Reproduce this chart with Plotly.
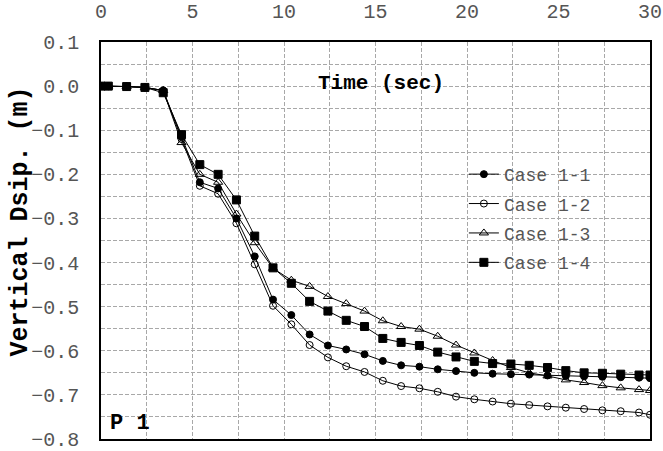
import plotly.graph_objects as go

# Time axis (sec)
time_s = [0, 0.4, 1.4, 2.4, 3.4, 4.4, 5.4, 6.4, 7.4, 8.4, 9.4, 10.4, 11.4, 12.4,
          13.4, 14.4, 15.4, 16.4, 17.4, 18.4, 19.4, 20.4, 21.4, 22.4, 23.4, 24.4,
          25.4, 26.4, 27.4, 28.4, 29.4, 30.0]

# Vertical displacement (m) per case
case_1_1 = [0, 0, -0.001, -0.003, -0.010, -0.115, -0.218, -0.232, -0.300, -0.386,
            -0.484, -0.519, -0.563, -0.588, -0.597, -0.608, -0.623, -0.633, -0.636,
            -0.642, -0.646, -0.650, -0.652, -0.653, -0.654, -0.656, -0.657, -0.658,
            -0.659, -0.660, -0.661, -0.662]
case_1_2 = [0, 0, -0.001, -0.003, -0.010, -0.120, -0.226, -0.244, -0.311, -0.404,
            -0.498, -0.540, -0.587, -0.615, -0.635, -0.648, -0.668, -0.680, -0.685,
            -0.693, -0.704, -0.710, -0.715, -0.720, -0.723, -0.726, -0.729, -0.732,
            -0.735, -0.737, -0.740, -0.745]
case_1_3 = [0, 0, -0.001, -0.003, -0.010, -0.128, -0.200, -0.218, -0.290, -0.355,
            -0.413, -0.440, -0.454, -0.477, -0.493, -0.510, -0.532, -0.545, -0.551,
            -0.567, -0.587, -0.605, -0.622, -0.638, -0.650, -0.657, -0.666, -0.672,
            -0.679, -0.684, -0.688, -0.690]
case_1_4 = [0, 0, -0.001, -0.003, -0.015, -0.110, -0.178, -0.200, -0.258, -0.340,
            -0.412, -0.447, -0.488, -0.510, -0.531, -0.545, -0.572, -0.581, -0.588,
            -0.603, -0.614, -0.624, -0.629, -0.630, -0.633, -0.638, -0.645, -0.650,
            -0.651, -0.653, -0.655, -0.655]

series_names = ["Case 1-1", "Case 1-2", "Case 1-3", "Case 1-4"]
series_values = [case_1_1, case_1_2, case_1_3, case_1_4]

# Axis ticks
x_ticks = [0, 5, 10, 15, 20, 25, 30]
y_ticks = [0.1, 0.0, -0.1, -0.2, -0.3, -0.4, -0.5, -0.6, -0.7, -0.8]

marker_styles = [
    dict(symbol="circle", size=7, color="black", line=dict(color="black", width=1)),
    dict(symbol="circle-open", size=7, color="black", line=dict(color="black", width=1)),
    dict(symbol="triangle-up-open", size=8, color="black", line=dict(color="black", width=1)),
    dict(symbol="square", size=8, color="black", line=dict(color="black", width=1)),
]

MONO = "Courier New, Liberation Mono, monospace"
TICK_COL = "#555"

fig = go.Figure()
for i, (name, vals, mk) in enumerate(zip(series_names, series_values, marker_styles)):
    fig.add_trace(go.Scatter(
        x=time_s, y=vals, name=name, mode="lines+markers",
        line=dict(color="black", width=1),
        marker=mk, legendgroup=f"g{i}",
    ))

grid_dash = "4px,2px"
grid_col = "#a8a8a8"

fig.update_layout(
    width=663, height=451,
    margin=dict(l=101, r=13, t=42, b=12),
    paper_bgcolor="white", plot_bgcolor="white",
    font=dict(family=MONO, color=TICK_COL),
    showlegend=True,
    legend=dict(
        x=0.661, y=0.713, xanchor="left", yanchor="top",
        bgcolor="rgba(0,0,0,0)", borderwidth=0,
        font=dict(family=MONO, size=18, color=TICK_COL),
        itemwidth=30, tracegroupgap=3, traceorder="grouped",
    ),
    xaxis=dict(
        range=[0, 30], side="top", tickmode="array", tickvals=x_ticks,
        ticktext=[str(v) for v in x_ticks], automargin=False,
        ticklabeloverflow="allow",
        showline=True, linecolor="black", linewidth=1.5, mirror=True,
        ticks="", ticklabelstandoff=14,
        tickfont=dict(family=MONO, size=20, color=TICK_COL),
        showgrid=True, gridcolor=grid_col, gridwidth=1, griddash=grid_dash,
        minor=dict(dtick=2.5, tick0=0, showgrid=True, gridcolor=grid_col,
                   gridwidth=1, griddash=grid_dash),
        zeroline=False,
    ),
    yaxis=dict(
        range=[-0.8, 0.1], tickmode="array", tickvals=y_ticks,
        ticktext=[f"{v:.1f}".replace("-", "\u2212") if v < 0 else f"{v:.1f}"
                  for v in y_ticks],
        automargin=False, ticklabeloverflow="allow",
        showline=True, linecolor="black", linewidth=1.5, mirror=True,
        ticks="", ticklabelstandoff=16,
        tickfont=dict(family=MONO, size=20, color=TICK_COL),
        showgrid=True, gridcolor=grid_col, gridwidth=1, griddash=grid_dash,
        minor=dict(dtick=0.05, tick0=0, showgrid=True, gridcolor=grid_col,
                   gridwidth=1, griddash=grid_dash),
        zeroline=False,
    ),
    annotations=[
        dict(text="<b>Time (sec)</b>", x=15.3, y=0.006, xref="x", yref="y",
             showarrow=False, xanchor="center", yanchor="middle",
             font=dict(family=MONO, size=21, color="black")),
        dict(text="<b>Vertical Dsip. (m)</b>", x=-0.1475, y=0.548, xref="paper",
             yref="paper", showarrow=False, textangle=-90, xanchor="center",
             yanchor="middle", font=dict(family=MONO, size=25, color="black")),
        dict(text="<b>P 1</b>", x=1.56, y=-0.765, xref="x", yref="y",
             showarrow=False, xanchor="center", yanchor="middle",
             font=dict(family=MONO, size=22, color="black")),
    ],
)

fig.write_html("out.html")
